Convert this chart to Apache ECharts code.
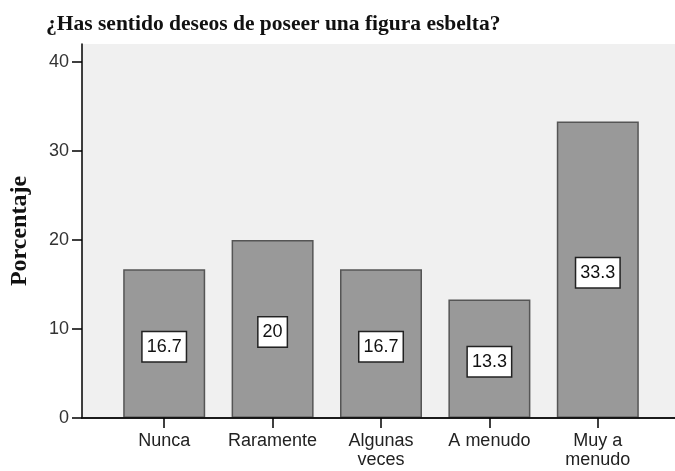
<!DOCTYPE html>
<html>
<head>
<meta charset="utf-8">
<script src="https://cdn.jsdelivr.net/npm/echarts@6/dist/echarts.min.js"></script>
<style>
  html, body { margin: 0; padding: 0; background: #fff; }
  #chart { width: 675px; height: 471px; }
</style>
</head>
<body>
<div id="chart"></div>
<script>
// datos
const categorias = ["Nunca", "Raramente", "Algunas\nveces", "A menudo", "Muy a\nmenudo"];
const porcentajes = [16.7, 20, 16.7, 13.3, 33.3];
const ticksY = [0, 10, 20, 30, 40];

const chart = echarts.init(document.getElementById("chart"));

const options = {
  animation: false,
  title: {
    text: "¿Has sentido deseos de poseer una figura esbelta?",
    left: 41,
    top: 8,
    textStyle: {
      fontFamily: "Liberation Serif",
      fontWeight: "bold",
      fontSize: 21.5,
      color: "#111",
    },
  },
  grid: [
    // fondo gris del area de trazado
    { left: 80, right: 0, top: 44, bottom: 53, show: true, backgroundColor: "#f0f0f0", borderWidth: 0 },
    // zona de las barras
    { left: 110, right: 23, top: 44, bottom: 53 },
  ],
  xAxis: [
    {
      gridIndex: 0,
      type: "value",
      position: "top",
      min: 0,
      max: 1,
      axisLine: { show: true, lineStyle: { color: "#444", width: 1.5 } },
      axisTick: { show: false },
      axisLabel: { show: false },
      splitLine: { show: false },
    },
    {
      gridIndex: 0,
      type: "value",
      position: "bottom",
      min: 0,
      max: 1,
      z: 5,
      axisLine: { show: true, lineStyle: { color: "#000", width: 1.5 } },
      axisTick: { show: false },
      axisLabel: { show: false },
      splitLine: { show: false },
    },
    {
      gridIndex: 1,
      type: "category",
      data: categorias,
      axisLine: { show: false },
      axisTick: {
        show: true,
        alignWithLabel: true,
        length: 10,
        lineStyle: { color: "#000", width: 1.5 },
      },
      axisLabel: {
        interval: 0,
        margin: 14,
        fontFamily: "Liberation Sans",
        fontSize: 18,
        lineHeight: 19,
        color: "#222",
      },
    },
  ],
  yAxis: [
    {
      gridIndex: 0,
      type: "value",
      min: 0,
      max: 42,
      interval: 10,
      name: "Porcentaje",
      nameLocation: "middle",
      nameGap: 50,
      nameTextStyle: {
        fontFamily: "Liberation Serif",
        fontWeight: "bold",
        fontSize: 24,
        color: "#111",
      },
      axisLine: { show: true, lineStyle: { color: "#000", width: 1.5 } },
      axisTick: { show: true, length: 10, customValues: ticksY, lineStyle: { color: "#000", width: 1.5 } },
      axisLabel: {
        customValues: ticksY,
        margin: 13,
        fontFamily: "Liberation Sans",
        fontSize: 18,
        color: "#333",
      },
      splitLine: { show: false },
    },
    {
      gridIndex: 1,
      type: "value",
      min: 0,
      max: 42,
      show: false,
    },
  ],
  series: [
    {
      type: "bar",
      xAxisIndex: 2,
      yAxisIndex: 1,
      data: porcentajes,
      barWidth: 82,
      itemStyle: {
        color: "#999999",
        borderColor: "#555",
        borderWidth: 1.5,
      },
      label: {
        show: true,
        position: "inside",
        offset: [0, 3],
        fontFamily: "Liberation Sans",
        fontSize: 18,
        color: "#111",
        backgroundColor: "#fff",
        borderColor: "#222",
        borderWidth: 1.5,
        padding: [6, 4, 5, 4],
      },
    },
  ],
};

chart.setOption(options);
</script>
</body>
</html>
